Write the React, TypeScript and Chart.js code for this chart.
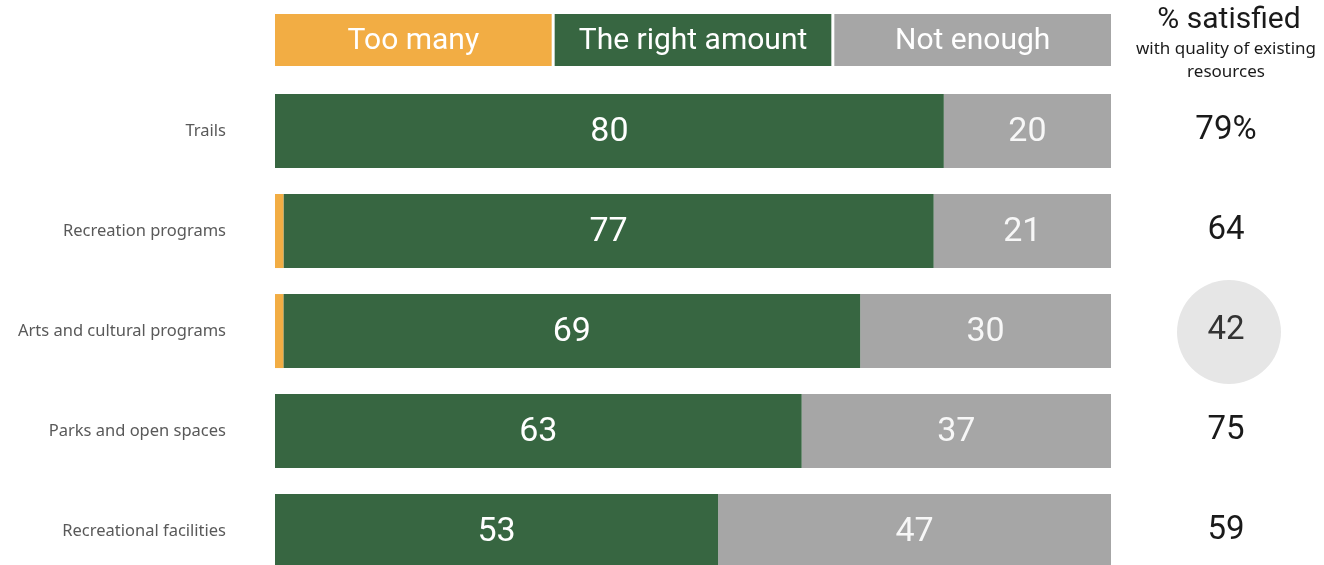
import React, { useEffect, useRef } from "react";
import { Chart, registerables } from "chart.js";

Chart.register(...registerables);

const categories = [
  "Trails",
  "Recreation programs",
  "Arts and cultural programs",
  "Parks and open spaces",
  "Recreational facilities",
];
const seriesNames = ["Too many", "The right amount", "Not enough"];
const tooMany = [0, 1, 1, 0, 0];
const rightAmount = [80, 77, 69, 63, 53];
const notEnough = [20, 21, 30, 37, 47];
const satisfiedValues = ["79%", "64", "42", "75", "59"];
const satisfiedHighlight = [false, false, true, false, false];
const satisfiedTitle = "% satisfied";
const satisfiedSubtitle = ["with quality of existing", "resources"];

const COLORS = ["#f2ad44", "#376641", "#a6a6a6"];
const CANVAS_H = 640;

export default function App() {
  const ref = useRef<HTMLCanvasElement | null>(null);

  useEffect(() => {
    if (!ref.current) return;
    const raw = [tooMany, rightAmount, notEnough];
    const totals = categories.map((_, i) => raw.reduce((s, arr) => s + arr[i], 0));
    const shares = raw.map((arr) => arr.map((v, i) => (v / totals[i]) * 100));

    const overlay = {
      id: "overlay",
      afterDraw(chart: any) {
        const ctx = chart.ctx as CanvasRenderingContext2D;
        const area = chart.chartArea;
        const yScale = chart.scales.y;
        ctx.save();

        // header legend boxes
        const gap = 3;
        const boxW = (area.right - area.left - 2 * gap) / 3;
        seriesNames.forEach((name, i) => {
          const x0 = area.left + i * (boxW + gap);
          ctx.fillStyle = COLORS[i];
          ctx.fillRect(x0, 14, boxW, 52);
          ctx.fillStyle = "#ffffff";
          ctx.font = "30px Roboto";
          ctx.textAlign = "center";
          ctx.textBaseline = "middle";
          ctx.fillText(name, x0 + boxW / 2, 41);
        });

        // bar value labels
        chart.data.datasets.forEach((ds: any, di: number) => {
          const meta = chart.getDatasetMeta(di);
          meta.data.forEach((bar: any, i: number) => {
            const v = raw[di][i];
            if (di === 0 || !v) return;
            const cx = (bar.x + bar.base) / 2;
            ctx.fillStyle = di === 1 ? "#ffffff" : "#f7f7f7";
            ctx.font = "34px Roboto";
            ctx.textAlign = "center";
            ctx.textBaseline = "middle";
            ctx.fillText(String(v), cx, bar.y + 1);
          });
        });

        // right column
        const colX = 1226;
        ctx.fillStyle = "#1a1a1a";
        ctx.textAlign = "center";
        ctx.textBaseline = "middle";
        ctx.font = "30px Roboto";
        ctx.fillText(satisfiedTitle, 1229, 20);
        ctx.font = "17px 'Noto Sans'";
        satisfiedSubtitle.forEach((t, i) => ctx.fillText(t, colX, 49 + i * 23));

        satisfiedValues.forEach((t, i) => {
          const y = yScale.getPixelForValue(i);
          if (satisfiedHighlight[i]) {
            ctx.fillStyle = "#e6e6e6";
            ctx.beginPath();
            ctx.arc(1229, y + 1, 52, 0, Math.PI * 2);
            ctx.fill();
          }
          ctx.fillStyle = satisfiedHighlight[i] ? "#333333" : "#1a1a1a";
          ctx.font = "33px Roboto";
          ctx.fillText(t, colX, y);
        });
        ctx.restore();
      },
    };

    const chart = new Chart(ref.current, {
      type: "bar",
      data: {
        labels: categories,
        datasets: seriesNames.map((name, i) => ({
          label: name,
          data: shares[i],
          backgroundColor: COLORS[i],
          borderWidth: 0,
          barPercentage: 1,
          categoryPercentage: 0.74,
        })),
      },
      options: {
        indexAxis: "y",
        animation: false,
        responsive: false,
        maintainAspectRatio: false,
        layout: { padding: { top: 81, bottom: 0, right: 213, left: 0 } },
        plugins: { legend: { display: false }, tooltip: { enabled: false } },
        scales: {
          x: { stacked: true, min: 0, max: 100, display: false },
          y: {
            stacked: true,
            grid: { display: false, drawTicks: false },
            border: { display: false },
            ticks: {
              padding: 49,
              color: "#595959",
              font: { family: "'Noto Sans'", size: 16.5 },
            },
            afterFit(scale: any) {
              scale.width = 275;
            },
          },
        },
      },
      plugins: [overlay],
    } as any);
    return () => chart.destroy();
  }, []);

  return (
    <div
      style={{
        position: "fixed",
        left: 0,
        top: 0,
        width: 1324,
        height: 565,
        overflow: "hidden",
        background: "#ffffff",
      }}
    >
      <div style={{ position: "absolute", left: 0, top: 0, width: 1324, height: CANVAS_H }}>
        <canvas
          ref={ref}
          width={1324}
          height={CANVAS_H}
          style={{ display: "block", width: 1324, height: CANVAS_H }}
        />
      </div>
    </div>
  );
}
